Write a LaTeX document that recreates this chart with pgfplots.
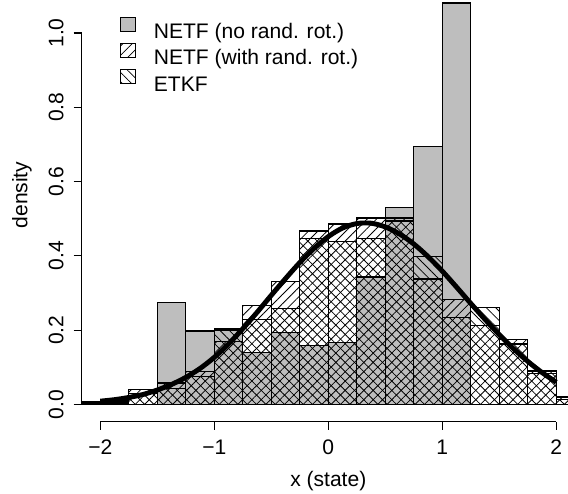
\documentclass[border=0pt]{standalone}
\usepackage{fontspec}
\setmainfont{Liberation Sans}
\usepackage{pgfplots}
\pgfplotsset{compat=1.18}
\usetikzlibrary{patterns.meta}
\definecolor{rgrey}{HTML}{BEBEBE}
\pgfplotsset{boxlegend/.style={legend image code/.code={\draw[##1,/tikz/.cd,line width=0.6pt] (0pt,0pt) rectangle (8.5pt,8pt);}}}
\begin{document}
\begin{tikzpicture}[font=\fontsize{12}{14}\selectfont]
\useasboundingbox (0,0) rectangle (323.76pt,281.01pt);
\begin{axis}[
  at={(46.57pt,40.64pt)}, anchor=south west,
  scale only axis, width=277.19pt, height=240.37pt,
  xmin=-2.163, xmax=2.1026, ymin=-0.0463, ymax=1.0888,
  axis line style={draw=none},
  clip mode=individual,
  tick align=outside, tick pos=left,
  major tick length=4.6pt,
  tick style={black, line width=0.6pt},
  xtick={-2,-1,0,1,2}, xticklabels={−2,−1,0,1,2},
  ytick={0,0.2,0.4,0.6,0.8,1.0}, yticklabels={0.0,0.2,0.4,0.6,0.8,1.0},
  xticklabel style={anchor=center}, xticklabel shift=9.8pt,
  yticklabel style={rotate=90, anchor=center}, yticklabel shift=10pt,
  xlabel={x (state)},
  xlabel style={at={(axis description cs:0.5071,-0.1406)}, anchor=center},
  ylabel={density},
  ylabel style={at={(axis description cs:-0.1227,0.5376)}, anchor=center},
  legend cell align=left,
  legend style={draw=none, fill=none, at={(axis description cs:0.0788,0.9607)}, anchor=north west,
    inner sep=0pt, outer sep=0pt, row sep=2.4pt,
    nodes={inner sep=0pt, text height=8.6pt, text depth=0pt},
    /tikz/every odd column/.append style={column sep=10.2pt}},
]
\addplot[ybar interval, fill=rgrey, draw=black, line width=0.7pt, boxlegend]
  coordinates {(-2.25,0) (-2,0.004) (-1.75,0) (-1.5,0.275) (-1.25,0.198) (-1,0.203) (-0.75,0.139) (-0.5,0.194) (-0.25,0.158) (0,0.166) (0.25,0.343) (0.5,0.530) (0.75,0.695) (1,1.081) (1.25,0) (1.5,0) (1.75,0) (2,0) (2.25,0)};
\addlegendentry{NETF (no rand. rot.)}
\addplot[ybar interval, draw=black, line width=0.7pt, pattern={Lines[angle=45,distance=3.76pt,line width=0.45pt]}, pattern color=black, boxlegend]
  coordinates {(-2.25,0.008) (-2,0.012) (-1.75,0.040) (-1.5,0.058) (-1.25,0.088) (-1,0.170) (-0.75,0.266) (-0.5,0.331) (-0.25,0.467) (0,0.486) (0.25,0.502) (0.5,0.502) (0.75,0.338) (1,0.283) (1.25,0.212) (1.5,0.174) (1.75,0.083) (2,0.020) (2.25,0)};
\addlegendentry{NETF (with rand. rot.)}
\addplot[ybar interval, draw=black, line width=0.7pt, pattern={Lines[angle=-45,distance=3.76pt,line width=0.45pt]}, pattern color=black, boxlegend]
  coordinates {(-2.25,0.004) (-2,0.008) (-1.75,0.030) (-1.5,0.043) (-1.25,0.075) (-1,0.199) (-0.75,0.228) (-0.5,0.258) (-0.25,0.446) (0,0.438) (0.25,0.446) (0.5,0.494) (0.75,0.398) (1,0.234) (1.25,0.262) (1.5,0.163) (1.75,0.090) (2,0.013) (2.25,0)};
\addlegendentry{ETKF}
\addplot[black, line width=2.8pt, smooth, forget plot] coordinates {
(-2.0,0.009) (-1.875,0.013) (-1.75,0.019) (-1.625,0.027) (-1.5,0.039) (-1.375,0.054) (-1.25,0.073) (-1.125,0.097) (-1.0,0.127) (-0.875,0.163) (-0.75,0.204) (-0.625,0.248) (-0.5,0.294) (-0.375,0.339) (-0.25,0.382) (-0.125,0.420) (0.0,0.452) (0.125,0.475) (0.25,0.487) (0.375,0.488) (0.5,0.478) (0.625,0.459) (0.75,0.432) (0.875,0.398) (1.0,0.359) (1.125,0.316) (1.25,0.272) (1.375,0.229) (1.5,0.188) (1.625,0.150) (1.75,0.116) (1.875,0.086) (2.0,0.060)};
\draw[line width=0.6pt] (axis cs:-2,-0.0463) -- (axis cs:2,-0.0463);
\draw[line width=0.6pt] (axis cs:-2.163,0) -- (axis cs:-2.163,1);
\end{axis}
\end{tikzpicture}
\end{document}
